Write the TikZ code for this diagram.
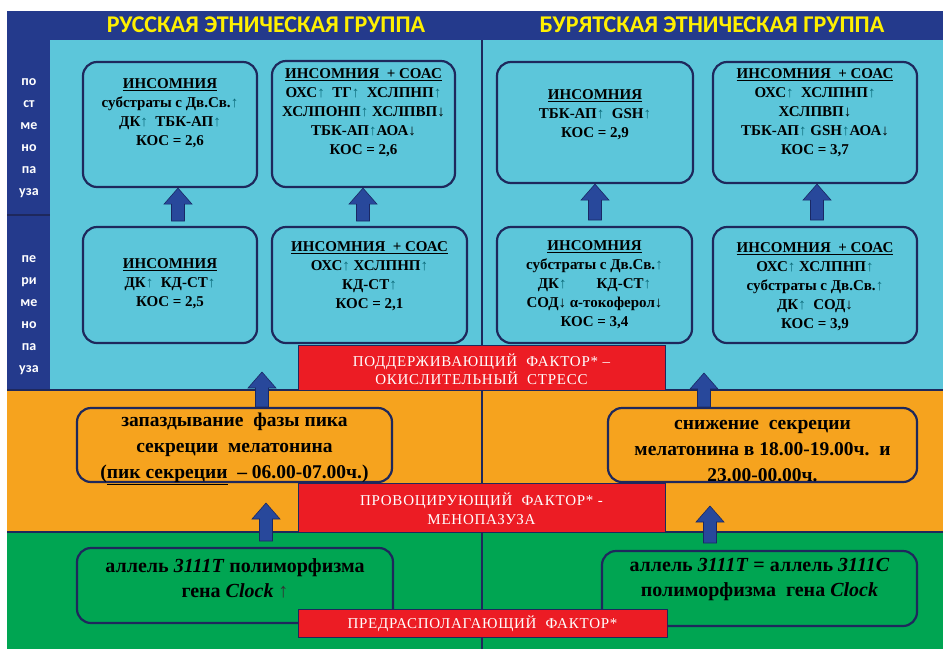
\documentclass[tikz,border=0pt]{standalone}
\usepackage{fontspec}
\setmainfont{Liberation Serif}
\newfontfamily\hdrfont{Carlito}
\newfontfamily\redfont[LetterSpace=5]{Liberation Serif}
\usetikzlibrary{calc}
\definecolor{hdrblue}{RGB}{36,58,140}
\definecolor{cyanbg}{RGB}{92,198,218}
\definecolor{orangebg}{RGB}{246,163,30}
\definecolor{greenbg}{RGB}{0,165,82}
\definecolor{redbg}{RGB}{236,28,36}
\definecolor{boxline}{RGB}{30,40,92}
\definecolor{arrfill}{RGB}{40,72,155}
\definecolor{arrline}{RGB}{25,40,100}
\definecolor{hdryellow}{RGB}{255,240,0}
\definecolor{uparrow}{RGB}{10,105,120}
\newcommand\up{{\color{uparrow}↑}}
\newcommand\dn{↓}
\newcommand\blockarr[2]{%
  \filldraw[fill=arrfill, draw=arrline, line width=0.6pt] let \p1=(#1), \p2=(#2) in
    ({\x1-6.5pt},\y1) -- ({\x1-6.5pt},{\y2-16pt}) -- ({\x1-14pt},{\y2-16pt}) -- (\x1,\y2)
    -- ({\x1+14pt},{\y2-16pt}) -- ({\x1+6.5pt},{\y2-16pt}) -- ({\x1+6.5pt},\y1) -- cycle;}
\begin{document}
\begin{tikzpicture}[x=1pt,y=-1pt,
  cbox/.style={draw=boxline, line width=2.2pt, rounded corners=14pt, inner sep=0pt},
  ctext/.style={align=center, text=black, inner sep=0pt, font=\bfseries\fontsize{15}{19}\selectfont},
  otext/.style={align=center, text=black, inner sep=0pt, font=\bfseries\fontsize{19.5}{26}\selectfont},
  gtext/.style={align=center, text=black, inner sep=0pt, font=\bfseries\fontsize{20}{25}\selectfont},
  rbox/.style={fill=redbg, draw=boxline, line width=0.8pt, inner sep=0pt},
  rtext/.style={align=center, text=white, inner sep=0pt, font=\redfont\fontsize{15}{18.5}\selectfont},
  hdr/.style={text=hdryellow, inner sep=0pt, font=\hdrfont\bfseries\fontsize{24}{26}\selectfont},
  side/.style={text=white, align=center, inner sep=0pt, font=\hdrfont\bfseries\fontsize{14}{22}\selectfont},
  divline/.style={draw=boxline, line width=1.2pt}
]
\useasboundingbox (0,0) rectangle (943,649);
\fill[white] (0,0) rectangle (943,649);
% bands
\fill[hdrblue] (7,11) rectangle (943,40);
\fill[hdrblue] (7,40) rectangle (50,390);
\fill[cyanbg] (50,40) rectangle (943,390);
\fill[orangebg] (7,390) rectangle (943,532);
\fill[greenbg] (7,532) rectangle (943,649);
\draw[divline] (7,215) -- (50,215);
\draw[divline] (7,390) -- (943,390);
\draw[divline] (7,532) -- (943,532);
\draw[divline] (482,40) -- (482,390);
\draw[divline] (482,390) -- (482,532);
\draw[divline] (482,532) -- (482,649);
% headers
\node[hdr] (h1) at (266,25) {РУССКАЯ ЭТНИЧЕСКАЯ ГРУППА};
\node[hdr] (h2) at (712,25) {БУРЯТСКАЯ ЭТНИЧЕСКАЯ ГРУППА};
\node[side] (s1) at (29,138) {по\\ст\\ме\\но\\па\\уза};
\node[side] (s2) at (29,315) {пе\\ри\\ме\\но\\па\\уза};
% cyan boxes
\node[cbox, minimum width=174, minimum height=125] (A) at (170,124.5) {};
\node[cbox, minimum width=183, minimum height=126] (B) at (363.5,124) {};
\node[cbox, minimum width=196, minimum height=121] (C) at (595,122.5) {};
\node[cbox, minimum width=204, minimum height=121] (D) at (815,122.5) {};
\node[cbox, minimum width=174, minimum height=116] (E) at (170,285) {};
\node[cbox, minimum width=195, minimum height=116] (F) at (369.5,285) {};
\node[cbox, minimum width=195, minimum height=116] (G) at (594.5,285) {};
\node[cbox, minimum width=204, minimum height=116] (H) at (815,285) {};
\node[ctext] (At) at (170,113) {\underline{ИНСОМНИЯ}\\субстраты с Дв.Св.\up\\ДК\up\ \ ТБК-АП\up\\КОС = 2,6};
\node[ctext] (Bt) at (363.5,112.5) {\underline{ИНСОМНИЯ\ \ + СОАС}\\ОХС\up\ \ ТГ\up\ \ ХСЛПНП\up\\ХСЛПОНП\up\ ХСЛПВП\dn\\ТБК-АП\up АОА\dn\\КОС = 2,6};
\node[ctext] (Ct) at (595,115) {\underline{ИНСОМНИЯ}\\ТБК-АП\up\ \ GSH\up\\КОС = 2,9};
\node[ctext] (Dt) at (815,112.5) {\underline{ИНСОМНИЯ\ \ + СОАС}\\ОХС\up\ \ ХСЛПНП\up\\ХСЛПВП\dn\\ТБК-АП\up\ GSH\up АОА\dn\\КОС = 3,7};
\node[ctext] (Et) at (170,283.5) {\underline{ИНСОМНИЯ}\\ДК\up\ \ КД-СТ\up\\КОС = 2,5};
\node[ctext] (Ft) at (369.5,276.5) {\underline{ИНСОМНИЯ\ \ + СОАС}\\ОХС\up\ ХСЛПНП\up\\КД-СТ\up\\КОС = 2,1};
\node[ctext] (Gt) at (594.5,285) {\underline{ИНСОМНИЯ}\\субстраты с Дв.Св.\up\\ДК\up\hspace{2em}КД-СТ\up\\СОД\dn\ α-токоферол\dn\\КОС = 3,4};
\node[ctext] (Ht) at (815,286.5) {\underline{ИНСОМНИЯ\ \ + СОАС}\\ОХС\up\ ХСЛПНП\up\\субстраты с Дв.Св.\up\\ДК\up\ \ СОД\dn\\КОС = 3,9};
% arrows between rows
\coordinate (ae) at (178,221);
\coordinate (af) at (363,221);
\coordinate (ag) at (595,220);
\coordinate (ah) at (817,220);
\blockarr{ae}{A.south}
\blockarr{af}{B.south}
\blockarr{ag}{C.south}
\blockarr{ah}{D.south}
% red box 1
\node[rbox, minimum width=367, minimum height=45] (R1) at (481.5,367.5) {};
\node[rtext] (R1t) at (481.5,369) {ПОДДЕРЖИВАЮЩИЙ\ \ ФАКТОР* –\\ОКИСЛИТЕЛЬНЫЙ\ \ СТРЕСС};
% orange boxes
\node[cbox, minimum width=315, minimum height=74] (I) at (234.5,445) {};
\node[cbox, minimum width=309, minimum height=74] (J) at (762.5,445) {};
\node[otext] (It) at (234.5,449) {запаздывание\ \ фазы пика\\секреции\ \ мелатонина\\(\underline{пик секреции}\ \ – 06.00-07.00ч.)};
\node[otext] (Jt) at (762.5,451) {снижение\ \ секреции\\мелатонина в 18.00-19.00ч.\ \ и\\23.00-00.00ч.};
\coordinate (ti) at (262,372);
\coordinate (tj) at (704,373);
\blockarr{I.north -| ti}{ti}
\blockarr{J.north -| tj}{tj}
% red box 2
\node[rbox, minimum width=367, minimum height=49] (R2) at (481.5,507.5) {};
\node[rtext] (R2t) at (481.5,508.5) {ПРОВОЦИРУЮЩИЙ\ \ ФАКТОР* -\\МЕНОПАЗУЗА};
% green boxes
\node[cbox, minimum width=316, minimum height=75] (K) at (235,585.5) {};
\node[cbox, minimum width=315, minimum height=75] (L) at (759.5,588.5) {};
\node[gtext] (Kt) at (235,578.5) {аллель \textit{3111T} полиморфизма\\гена \textit{Clock} {\mdseries\color{black!80}↑}};
\node[gtext] (Lt) at (759.5,579.5) {аллель \textit{3111T} = аллель \textit{3111C}\\полиморфизма\ \ гена \textit{Clock}};
\coordinate (bk) at (266,541);
\coordinate (bl) at (710,543);
\coordinate (tk) at (266,503);
\coordinate (tl) at (710,506);
\blockarr{bk}{tk}
\blockarr{bl}{tl}
% red box 3
\node[rbox, minimum width=369, minimum height=28] (R3) at (482.5,623) {};
\node[rtext] (R3t) at (482.5,624) {ПРЕДРАСПОЛАГАЮЩИЙ\ \ ФАКТОР*};
\end{tikzpicture}
\end{document}
